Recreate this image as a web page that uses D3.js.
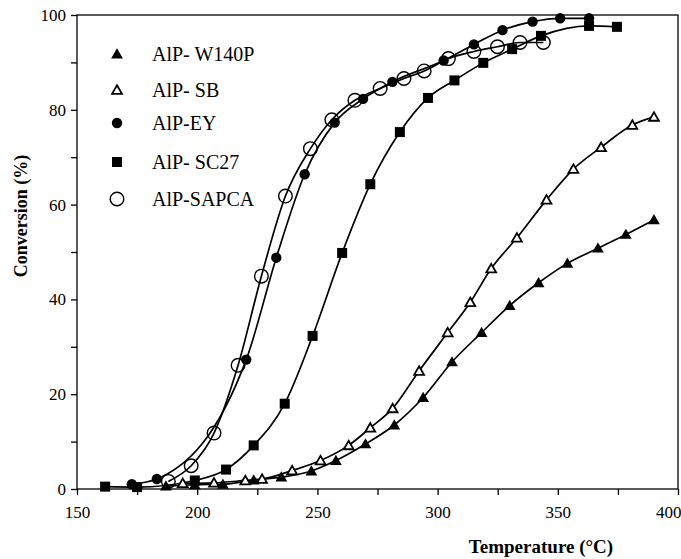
<!DOCTYPE html>
<meta charset='utf-8'>
<div class="chart"></div>
<script src="https://d3js.org/d3.v7.min.js"></script>
<style>
	body { margin: 0; background: #fff; }
	svg text { font-family: "Liberation Serif", "DejaVu Serif", "Times New Roman", serif; fill: #000; }
	.curve { fill: none; stroke: #000; stroke-width: 1.7px; }
	.axis line { stroke: #000; stroke-width: 1.3px; }
</style>
<script>
	// temperature (°C) / conversion (%)
	var w140pT = [187, 199, 210.7, 223.5, 235, 247.5, 257.7, 270, 282, 294, 306, 318.3, 330, 342, 354, 366.7, 378.3, 390];
	var w140pC = [0.6, 0.9, 1.0, 1.9, 2.5, 3.8, 6.0, 9.5, 13.5, 19.3, 26.8, 33.0, 38.7, 43.5, 47.6, 50.8, 53.7, 56.8];

	var sbT = [194, 207, 220, 227, 239.5, 251.3, 263, 272, 281.3, 292.3, 304.2, 313.6, 322.3, 333, 345.3, 356.5, 368, 381, 390];
	var sbC = [1.2, 1.3, 1.8, 2.1, 3.9, 6.0, 9.2, 12.9, 17.0, 24.9, 33.0, 39.4, 46.5, 53.0, 61.0, 67.5, 72.1, 76.8, 78.5];

	var eyT = [172.8, 183.2, 220.4, 232.9, 244.7, 257.2, 269, 281.2, 302.5, 315.1, 327, 339.5, 351, 363];
	var eyC = [1.0, 2.1, 27.3, 48.8, 66.4, 77.3, 82.3, 85.9, 90.4, 93.8, 96.8, 98.6, 99.3, 99.3];

	var sc27T = [161.7, 175, 199, 212, 223.5, 236.4, 248, 260.3, 272, 284.3, 296, 307, 319, 331, 343, 363, 374.6];
	var sc27C = [0.5, 0.4, 1.8, 4.1, 9.2, 18.0, 32.3, 49.8, 64.3, 75.3, 82.5, 86.2, 89.9, 92.8, 95.6, 97.7, 97.5];

	var sapcaT = [188, 197.5, 207, 217, 226.7, 236.7, 247.1, 256, 265.6, 276.1, 286, 294.4, 304.5, 315.1, 324.9, 334.3, 344];
	var sapcaC = [1.6, 4.9, 11.8, 26.1, 44.9, 61.8, 71.8, 77.9, 82.0, 84.5, 86.6, 88.2, 90.8, 92.3, 93.3, 94.2, 94.2];

	var seriesNames = ["AlP- W140P", "AlP- SB", "AlP-EY", "AlP- SC27", "AlP-SAPCA"];
	var xTicks = [150, 200, 250, 300, 350, 400];
	var yTicks = [0, 20, 40, 60, 80, 100];

	var width = 681, height = 559;
	var margin = {left: 77, top: 15, right: 3, bottom: 70};
	var serif = "'Liberation Serif', 'DejaVu Serif', 'Times New Roman', serif";

	var svg = d3.select(".chart")
		.append("svg")
		.attr("width", width)
		.attr("height", height);

	var x = d3.scaleLinear().domain([150, 400]).range([margin.left, width - margin.right]);
	var y = d3.scaleLinear().domain([0, 100]).range([height - margin.bottom, margin.top]);

	// frame
	svg.append("rect")
		.attr("x", x(150)).attr("y", y(100))
		.attr("width", x(400) - x(150)).attr("height", y(0) - y(100))
		.attr("fill", "none").attr("stroke", "#000").attr("stroke-width", 1.3);

	var xAxis = svg.append("g")
		.attr("class", "axis")
		.attr("transform", "translate(0," + y(0) + ")")
		.call(d3.axisBottom(x).tickValues(d3.range(150, 401, 25)).tickSize(6).tickFormat(function(d) {
			return xTicks.indexOf(d) >= 0 ? d : "";
		}));
	xAxis.selectAll("text").attr("font-size", 17).attr("dy", "1.2em");
	// last label sits just inside the page edge, as in the figure
	xAxis.selectAll(".tick").filter(function(d) { return d == 400; })
		.select("text").attr("text-anchor", "end").attr("x", 3);

	var yAxis = svg.append("g")
		.attr("class", "axis")
		.attr("transform", "translate(" + x(150) + ",0)")
		.call(d3.axisLeft(y).tickValues(d3.range(0, 101, 10)).tickSize(6).tickFormat(function(d) {
			return yTicks.indexOf(d) >= 0 ? d : "";
		}));
	yAxis.selectAll("text").attr("font-size", 17).attr("x", -11);
	svg.selectAll(".axis").attr("font-family", serif);
	svg.selectAll(".axis .domain").remove();

	svg.append("text")
		.attr("x", 541).attr("y", 553)
		.attr("text-anchor", "middle")
		.attr("font-family", serif)
		.attr("font-weight", "bold")
		.attr("font-size", 19)
		.text("Temperature (°C)");

	svg.append("text")
		.attr("transform", "translate(27,216) rotate(-90)")
		.attr("text-anchor", "middle")
		.attr("font-family", serif)
		.attr("font-weight", "bold")
		.attr("font-size", 18)
		.text("Conversion (%)");

	function zip(ts, cs) {
		return ts.map(function(t, i) { return [t, cs[i]]; });
	}

	var series = [
		{name: seriesNames[0], data: zip(w140pT, w140pC), sym: "triFill"},
		{name: seriesNames[1], data: zip(sbT, sbC), sym: "triOpen"},
		{name: seriesNames[2], data: zip(eyT, eyC), sym: "dotFill"},
		{name: seriesNames[3], data: zip(sc27T, sc27C), sym: "square"},
		{name: seriesNames[4], data: zip(sapcaT, sapcaC), sym: "dotOpen"}
	];

	var line = d3.line()
		.x(function(d) { return x(d[0]); })
		.y(function(d) { return y(d[1]); })
		.curve(d3.curveMonotoneX);

	svg.append("g").selectAll("path")
		.data(series)
		.enter()
		.append("path")
		.attr("class", "curve")
		.attr("d", function(s) { return line(s.data); });

	function drawSymbol(g, kind) {
		if (kind == "triFill") {
			g.append("path").attr("d", d3.symbol().type(d3.symbolTriangle).size(60)()).attr("transform", "translate(0,1)").attr("fill", "#000");
		} else if (kind == "triOpen") {
			g.append("path").attr("d", d3.symbol().type(d3.symbolTriangle).size(42)()).attr("transform", "translate(0,1)")
				.attr("fill", "#fff").attr("stroke", "#000").attr("stroke-width", 1.8);
		} else if (kind == "dotFill") {
			g.append("circle").attr("r", 5.2).attr("fill", "#000");
		} else if (kind == "square") {
			g.append("rect").attr("x", -5).attr("y", -5).attr("width", 10).attr("height", 10).attr("fill", "#000");
		} else {
			g.append("circle").attr("r", 6.8).attr("fill", "none").attr("stroke", "#000").attr("stroke-width", 1.4);
		}
	}

	series.forEach(function(s) {
		svg.append("g").selectAll("g")
			.data(s.data)
			.enter()
			.append("g")
			.attr("transform", function(d) { return "translate(" + x(d[0]) + "," + y(d[1]) + ")"; })
			.each(function() { drawSymbol(d3.select(this), s.sym); });
	});

	// legend
	var legendY = [54, 90, 123, 162, 199];
	var legend = svg.append("g").selectAll("g")
		.data(series)
		.enter()
		.append("g")
		.attr("transform", function(d, i) { return "translate(117," + legendY[i] + ")"; });
	legend.each(function(s) { drawSymbol(d3.select(this), s.sym); });
	legend.append("text")
		.attr("x", 35).attr("y", 7)
		.attr("font-family", serif)
		.attr("font-size", 20)
		.text(function(s) { return s.name; });
</script>
